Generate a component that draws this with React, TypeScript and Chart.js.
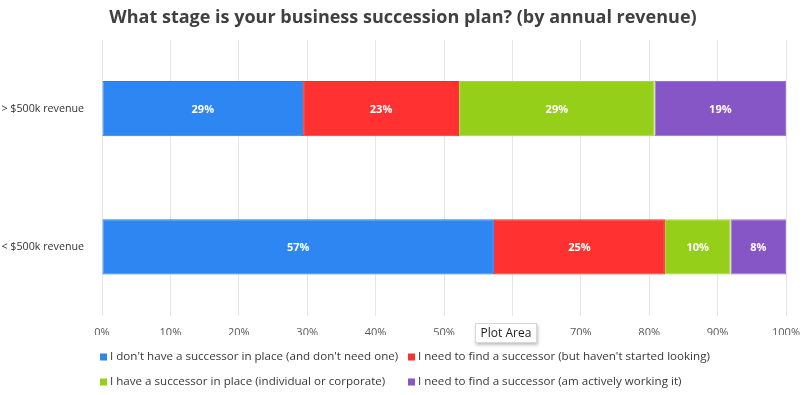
import React, { useEffect, useRef } from "react";
import { Chart, registerables } from "chart.js";

Chart.register(...registerables);

const TITLE = "What stage is your business succession plan? (by annual revenue)";
const categories = ["> $500k revenue", "< $500k revenue"];
const seriesLabels = [
  "I don't have a successor in place (and don't need one)",
  "I need to find a successor (but haven't started looking)",
  "I have a successor in place (individual or corporate)",
  "I need to find a successor (am actively working it)",
];
const noSuccessorNeeded = [29.4, 57.3];
const needNotLooking = [22.8, 25.0];
const haveSuccessor = [28.6, 9.6];
const needActivelyWorking = [19.2, 8.1];
const seriesValues = [noSuccessorNeeded, needNotLooking, haveSuccessor, needActivelyWorking];
const seriesColors = ["#2E86F2", "#FF3131", "#96CF1A", "#8756C6"];
const seriesBorders = ["#2A7BE3", "#F52B2B", "#A6D63E", "#9A72D4"];
const xTicks = [0, 10, 20, 30, 40, 50, 60, 70, 80, 90, 100];

const FONT = "'Open Sans', 'Noto Sans', sans-serif";

const dataLabelPlugin = {
  id: "dataLabels",
  afterDatasetsDraw(chart: any) {
    const ctx = chart.ctx;
    ctx.save();
    ctx.font = `bold 11px ${FONT}`;
    ctx.fillStyle = "#ffffff";
    ctx.textAlign = "center";
    ctx.textBaseline = "middle";
    chart.data.datasets.forEach((ds: any, i: number) => {
      const meta = chart.getDatasetMeta(i);
      meta.data.forEach((el: any, j: number) => {
        const cx = (el.x + el.base) / 2;
        ctx.fillText(`${Math.round(ds.data[j])}%`, cx, el.y + 1);
      });
    });
    ctx.restore();
  },
};

const gridLegendPlugin = {
  id: "gridLegend",
  afterDraw(chart: any) {
    const ctx = chart.ctx;
    ctx.save();
    ctx.font = `11.6px ${FONT}`;
    ctx.textBaseline = "middle";
    ctx.textAlign = "left";
    const colX = [chart.chartArea.left - 2, chart.chartArea.left + 306];
    const rowY = [chart.height - 38, chart.height - 13];
    chart.data.datasets.forEach((ds: any, i: number) => {
      const x = colX[i % 2];
      const y = rowY[Math.floor(i / 2)];
      ctx.fillStyle = ds.backgroundColor;
      ctx.fillRect(x, y - 3.5, 7, 7);
      ctx.fillStyle = "#383838";
      ctx.fillText(ds.label, x + 10, y);
    });
    ctx.restore();
  },
};

export default function App() {
  const ref = useRef<HTMLCanvasElement | null>(null);
  useEffect(() => {
    if (!ref.current) return;
    const chart = new Chart(ref.current, {
      type: "bar",
      data: {
        labels: categories,
        datasets: seriesLabels.map((label, i) => ({
          label,
          data: seriesValues[i],
          backgroundColor: seriesColors[i],
          borderColor: seriesBorders[i],
          borderWidth: 1,
          borderSkipped: false,
          categoryPercentage: 1,
          barPercentage: 0.4,
        })),
      },
      options: {
        indexAxis: "y",
        animation: false,
        responsive: false,
        layout: { padding: { left: 0, right: 0, top: 0, bottom: 60 } },
        plugins: {
          legend: { display: false },
          tooltip: { enabled: false },
          title: {
            display: true,
            text: TITLE,
            color: "#404040",
            font: { family: FONT, size: 18, weight: "bold" },
            padding: { top: 7, bottom: 11 },
          },
        },
        scales: {
          x: {
            stacked: true,
            min: 0,
            max: 100,
            afterBuildTicks: (scale: any) => {
              scale.ticks = xTicks.map((v) => ({ value: v }));
            },
            afterFit: (scale: any) => {
              scale.height = 19;
              scale.paddingLeft = 0;
              scale.paddingRight = 20;
            },
            ticks: {
              callback: (v: any) => `${v}%`,
              color: "#595959",
              font: { family: FONT, size: 11 },
              padding: 10,
              maxRotation: 0,
            },
            grid: { color: "#E6E6E6", drawTicks: false },
            border: { display: false },
          },
          y: {
            stacked: true,
            afterFit: (scale: any) => {
              scale.width = 102;
            },
            ticks: {
              color: "#333333",
              font: { family: FONT, size: 10.7 },
              padding: 10,
            },
            grid: { display: false },
            border: { display: false },
          },
        },
      },
      plugins: [dataLabelPlugin, gridLegendPlugin],
    } as any);
    return () => chart.destroy();
  }, []);

  return (
    <div style={{ position: "fixed", left: 0, top: 0, width: 806, height: 395, background: "#fff" }}>
      <canvas ref={ref} width={806} height={395} style={{ width: 806, height: 395, display: "block" }} />
      <div
        style={{
          position: "absolute",
          left: 475,
          top: 323,
          width: 62,
          height: 20,
          background: "#fff",
          border: "1px solid #d8d8d8",
          boxShadow: "1px 2px 3px rgba(0,0,0,0.25)",
          boxSizing: "border-box",
          fontFamily: FONT,
          fontSize: 12,
          color: "#222",
          lineHeight: "18px",
          textAlign: "center",
          whiteSpace: "nowrap",
        }}
      >
        Plot Area
      </div>
    </div>
  );
}
